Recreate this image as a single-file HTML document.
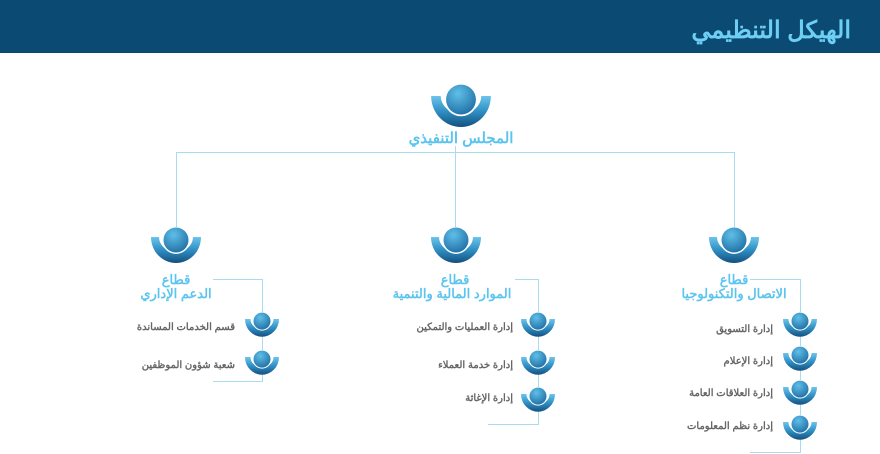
<!DOCTYPE html>
<html><head><meta charset="utf-8">
<style>
html,body{margin:0;padding:0;background:#fff;width:880px;height:454px;overflow:hidden}
svg{display:block}
text{font-family:"Liberation Sans","Noto Sans CJK SC",sans-serif;font-weight:bold}
.s{fill:#5cc5ef;font-size:13px}
.i{fill:#666;font-size:10px}
</style></head><body>
<svg width="880" height="454" viewBox="0 0 880 454" xmlns="http://www.w3.org/2000/svg">
<defs>
<linearGradient id="g" x1="0" y1="0" x2="0" y2="1">
<stop offset="0" stop-color="#6cc4ea"/><stop offset="0.5" stop-color="#2f8fc4"/><stop offset="1" stop-color="#14507f"/>
</linearGradient>
<radialGradient id="h" cx="0.4" cy="0.3" r="0.8">
<stop offset="0" stop-color="#5fbfe8"/><stop offset="1" stop-color="#1b6aa0"/>
</radialGradient>
<symbol id="ic" viewBox="0 0 50 36">
<path d="M0,10 A25,26 0 0 0 50,10 L42,10 A17,15 0 0 1 8,10 Z" fill="url(#g)"/>
<circle cx="25" cy="13" r="14" fill="#fff"/>
<circle cx="25" cy="13" r="12.5" fill="url(#h)"/>
</symbol>
</defs>
<rect x="0" y="0" width="880" height="53" fill="#0b4a72"/>
<text x="851" y="38" text-anchor="end" fill="#6ecff5" style="font-size:24px">الهيكل التنظيمي</text>

<g stroke="#a9dcf0" stroke-width="1" fill="none">
<path d="M176.5,228 V152.5 H734.5 V228"/>
<path d="M455.5,146 V228"/>
<path d="M213,279.5 H262.5 V381.5 H213"/>
<path d="M515,279.5 H538.5 V424.5 H488"/>
<path d="M750,279.5 H800.5 V452.5 H750"/>
</g>

<use href="#ic" x="431" y="84" width="60" height="43"/>
<text x="461" y="143" text-anchor="middle" class="s" style="font-size:15px">المجلس التنفيذي</text>

<use href="#ic" x="151" y="227" width="50" height="36"/>
<use href="#ic" x="431" y="227" width="50" height="36"/>
<use href="#ic" x="709" y="227" width="50" height="36"/>

<text x="176" y="284" text-anchor="middle" class="s">قطاع</text>
<text x="176" y="298" text-anchor="middle" class="s">الدعم الإداري</text>
<text x="455" y="284" text-anchor="middle" class="s">قطاع</text>
<text x="452" y="298" text-anchor="middle" class="s">الموارد المالية والتنمية</text>
<text x="734" y="284" text-anchor="middle" class="s">قطاع</text>
<text x="734" y="298" text-anchor="middle" class="s">الاتصال والتكنولوجيا</text>

<use href="#ic" x="245" y="312" width="34" height="25"/>
<use href="#ic" x="245" y="350" width="34" height="25"/>
<text x="235" y="330" text-anchor="end" class="i">قسم الخدمات المساندة</text>
<text x="235" y="368" text-anchor="end" class="i">شعبة شؤون الموظفين</text>

<use href="#ic" x="521" y="312" width="34" height="25"/>
<use href="#ic" x="521" y="350" width="34" height="25"/>
<use href="#ic" x="521" y="387" width="34" height="25"/>
<text x="513" y="330" text-anchor="end" class="i">إدارة العمليات والتمكين</text>
<text x="513" y="368" text-anchor="end" class="i">إدارة خدمة العملاء</text>
<text x="513" y="401" text-anchor="end" class="i">إدارة الإغاثة</text>

<use href="#ic" x="783" y="312" width="34" height="25"/>
<use href="#ic" x="783" y="346" width="34" height="25"/>
<use href="#ic" x="783" y="380" width="34" height="25"/>
<use href="#ic" x="783" y="415" width="34" height="25"/>
<text x="773" y="332" text-anchor="end" class="i">إدارة التسويق</text>
<text x="773" y="364" text-anchor="end" class="i">إدارة الإعلام</text>
<text x="773" y="396" text-anchor="end" class="i">إدارة العلاقات العامة</text>
<text x="773" y="429" text-anchor="end" class="i">إدارة نظم المعلومات</text>
</svg>
</body></html>
